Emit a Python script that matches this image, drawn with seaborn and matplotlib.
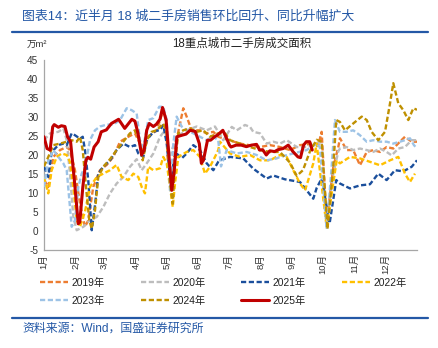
import numpy as np
import pandas as pd
import matplotlib
matplotlib.use("Agg")
import matplotlib.pyplot as plt
import seaborn as sns
from matplotlib.lines import Line2D

# ---------------- data (day of year, value in 万㎡) ----------------
months = ["1月", "2月", "3月", "4月", "5月", "6月", "7月", "8月", "9月", "10月", "11月", "12月"]
month_start_days = [0, 31, 59, 90, 120, 151, 181, 212, 243, 273, 304, 334]
years = ["2019年", "2020年", "2021年", "2022年", "2023年", "2024年", "2025年"]

d2019 = [0, 4.2, 9.1, 15.7, 22.2, 25.4, 30.3, 35.2, 40.1, 43.3, 48.2, 54.8, 61.4, 67.8, 74.4, 82.5, 89, 93.9, 97.2, 102,
         110.3, 116.7, 119.1, 121.6, 125, 128.2, 133, 136.3, 139.6, 144.5, 152.6, 159.2, 165.7, 170.5, 180, 191.8, 211.4,
         221.1, 230.9, 240.7, 250.5, 263.5, 268.4, 271.7, 276.6, 283.1, 288, 289.6, 296.2, 302.6, 309.2, 315.8, 322.2,
         328.8, 335.3, 341.8, 348.3, 353.2, 359.8, 365]
v2019 = [13.4, 11.6, 19.5, 21.3, 22.1, 21.3, 16, 7.2, 1.1, 2.8, 11.6, 16, 17.4, 19.5, 23.5, 24.8, 25.7, 23, 20.4, 24.8,
         26.5, 31.8, 30.1, 16, 11.6, 22.1, 28.1, 32.3, 30.1, 26.5, 26.5, 25.7, 26.1, 24.8, 24, 23.0, 22.1,
         22.6, 22.1, 21.3, 22.6, 23.0, 22.6, 26.1, 1.9, 16.9, 22.1, 24.4, 21.3, 21.3, 17.3, 20.8, 21.3,
         20.8, 22.1, 21.7, 23.5, 24.8, 23.5, 23.5]

d2020 = [0, 5.9, 14, 18.9, 22.2, 25.4, 28.7, 32, 38.5, 45, 51.6, 58, 64.6, 71.1, 77.6, 84.1, 90.7, 95.6, 100.5, 107,
         113.5, 118.4, 123.3, 129.8, 139.6, 149.4, 159.2, 167.3, 175.4, 183.7, 188.6, 196.7, 201.6, 204.8, 211.4, 217.9,
         224.4, 230.9, 237.5, 247.3, 257, 266.8, 271.7, 276.6, 283.1, 288, 289.6, 296.2, 302.6, 309.2, 315.8, 322.2,
         328.8, 335.3, 340.2, 346.7, 353.2, 359.8, 365]
v2020 = [23.9, 25.7, 26.1, 27, 23.9, 15.1, 3.7, 0.2, 1.1, 2.8, 3.7, 6.3, 9.9, 12.5, 14.2, 16.9, 18.9, 16, 17.8, 20.4,
         24.8, 26.5, 20, 24.8, 26.5, 27.5, 26.5, 27.5, 23.9, 27.4, 26.5, 27.9, 27.4, 26.1, 25.7, 23,
         23.5, 23, 23.9, 22.1, 22.1, 23, 23.5, 2.5, 15, 21, 21.7, 22.1, 21.3, 21.7, 21.3, 20.8,
         21.7, 20.8, 19.9, 21.7, 22.1, 23.9, 23.9]

d2021 = [0, 4.2, 7.5, 14, 18.9, 22.2, 27.1, 30.3, 35.2, 37.9, 40.1, 43.3, 46.7, 50.1, 53.1, 58, 64.6, 71.1, 77.6, 84.1,
         89, 92.3, 97.2, 100.5, 107, 113.5, 116.7, 120.1, 122.6, 125, 126.6, 129.8, 134.7, 139.6, 146.1, 152.6, 159.2,
         165.7, 170.5, 172.2, 182, 195, 204.8, 217.9, 224.4, 235.8, 250.5, 257, 263.5, 266.8, 271.7, 279.5, 286, 289.6,
         299.4, 309.2, 319, 327.1, 335.3, 343.4, 351.6, 359.8, 365]
v2021 = [16.9, 14.2, 20.8, 22.6, 23.0, 22.6, 25.7, 25.2, 24.3, 24.8, 21.3, 13.4, 0.2, 7.2, 15.1, 16.9, 18.6, 21.3, 23, 22.1,
         22.6, 20.4, 19.5, 23.9, 26.1, 26.6, 27.9, 23.0, 16, 11.6, 17.8, 20.4, 19.1, 20.4, 22.6, 21.3, 17.8,
         16, 18.2, 18.6, 19.5, 19.1, 16.4, 13.8, 14.6, 13.6, 12.9, 10.7, 8.5, 11.3, 13.8, 2, 13.4, 12.5,
         11.2, 12.0, 12.3, 15.1, 13.4, 16, 15.7, 16.9, 18.6]

d2022 = [0, 4.2, 7.5, 12.4, 17.3, 22.2, 25.4, 28.7, 32, 35.2, 40.1, 45, 51.6, 58, 64.6, 71.1, 76, 82.5, 87.4, 92.3,
         95.6, 98.8, 102, 107, 113.5, 116.7, 120.1, 123.3, 126, 128.2, 131.4, 139.6, 146.1, 152.6, 157.5, 162.4, 167.3,
         170.5, 172.2, 182, 191.8, 201.6, 211.4, 221.1, 230.9, 237.5, 243.9, 250.5, 255.4, 258.6, 263.5, 266.8, 276.6,
         286.4, 289.6, 299.4, 309.2, 319, 328.8, 338.6, 346.7, 353.2, 358.1, 363]
v2022 = [14.2, 9.9, 16, 19.5, 20.4, 20.0, 18.2, 11.6, 2.8, 1.1, 5.1, 11.6, 14.2, 15.1, 16, 17.4, 14.2, 13.4, 15.1, 14.2,
         11.6, 9.9, 16.9, 16, 16.5, 19.5, 17.8, 11.6, 6.3, 12.5, 19.5, 20.8, 21.3, 19.5, 15.1, 16.9, 19.5,
         21.3, 23.5, 20.4, 19.5, 20.0, 18.6, 18.6, 20, 19.5, 16, 12.5, 10.7, 13.4, 17.8, 23.0, 1.0,
         18.6, 17.8, 19.5, 19.1, 18.2, 17.3, 18.6, 19.5, 15.1, 12.9, 15.1]

d2023 = [0, 4.2, 9.1, 14, 18.9, 22.2, 25.4, 27.1, 30.3, 33.6, 36.9, 40.1, 45, 49.9, 54.8, 61.4, 67.8, 74.4, 80.9, 85.8,
         90.7, 93.9, 97.2, 102, 107, 112.8, 116.7, 120.1, 123.3, 126.6, 129.8, 134.7, 139.6, 146.1, 152.6, 159.2, 165.7,
         170.5, 173.2, 178.8, 188.6, 198.3, 208.1, 217.9, 227.7, 230.9, 243.9, 257, 266.8, 270, 276.6, 281.5, 284.7,
         289.6, 296.2, 302.6, 309.2, 315.8, 322.2, 328.8, 335.3, 341.8, 348.3, 353.2, 358.1, 362, 365]
v2023 = [11.6, 18.6, 21.3, 19.5, 17.8, 16, 6.3, 1.1, 2.8, 11.6, 15.1, 16.9, 23.9, 26.5, 27.5, 28, 28, 29.2, 32.3, 31.8,
         30.9, 23.9, 22.1, 29.2, 29.7, 32.7, 32.7, 29.2, 10.7, 23, 30.1, 27.5, 26.5, 25.7, 24.8, 23.9, 24.8,
         23.9, 17, 21.3, 20.4, 20.8, 20.0, 18.6, 19.1, 19.5, 20.4, 21.3, 23, 22, 0.5, 16.9, 29.2,
         26.1, 26.1, 26.5, 25.2, 23.5, 23.9, 23.5, 23.5, 23.0, 23.5, 23.9, 24.4, 22.6, 21.7]

d2024 = [0, 4.2, 9.1, 15.7, 22.2, 27.1, 32, 35.2, 37.9, 41.1, 44.3, 46.7, 49.9, 53.1, 58, 64.6, 71.1, 77.6, 84.1, 89,
         93.2, 96.6, 100.5, 105.4, 110.3, 116.7, 120.1, 123.3, 126, 128.2, 131.4, 136.3, 142.9, 149.4, 155.9, 162.4,
         170.5, 177.1, 182, 191.8, 201.6, 211.4, 221.1, 230.9, 240.7, 247.3, 253.4, 260.3, 266.8, 271.7, 277.4, 283.1,
         286, 289.6, 294.5, 302.6, 310.9, 315.8, 320.6, 327.1, 333.7, 338.6, 341.8, 346.7, 351.6, 356.5, 361.4, 365]
v2024 = [17, 19.5, 22.6, 23, 23.5, 23.9, 23.5, 24.8, 21.3, 11.6, 2.8, 0.6, 5.4, 14.2, 16.9, 18.9, 21.3, 23.5, 25.7, 26.5,
         23.9, 18.6, 23.9, 26.1, 26.5, 28.3, 25.7, 12.5, 7.2, 17.8, 25.7, 26.5, 27, 26.1, 26.5, 24.8,
         25.7, 25.7, 23.9, 23, 22.1, 21.3, 20.8, 20.8, 18, 14.5, 16, 21, 24, 23.5, 0.5, 17,
         29.2, 28.7, 26.5, 28.3, 30.1, 29.2, 26.1, 23.9, 26.1, 33.6, 38.9, 33.6, 31.8, 29.2, 32.3, 31.9]

d2025 = [0, 3, 6, 8.5, 10, 14, 17, 20.5, 23, 26, 30, 33.5, 35, 38, 41, 43, 45.7, 49, 53, 56, 61, 66, 73, 79, 86, 89, 92,
         95.5, 98, 100.5, 103, 107, 110, 113.5, 116, 119.5, 122.6, 125, 127.5, 130, 135, 139, 143, 148, 152, 154, 156,
         160, 163, 167, 170, 175, 178, 181.5, 183, 188, 193, 198, 203, 208, 211, 214, 217.5, 221, 225.7, 229, 234, 239,
         243.6, 248.5, 251, 254, 256.7, 260, 262.5]
v2025 = [24.8, 21.7, 21.3, 27.4, 28, 27.3, 27.7, 27.5, 24.8, 23.5, 12.5, 1.9, 2.3, 11.6, 18.6, 19.4, 18.9, 22.1, 23.5, 26.1,
         26.6, 28.3, 29.4, 27, 29.4, 28.9, 25.7, 20, 21.3, 26.5, 28.3, 27.5, 28.1, 29.4, 32.5, 29.2, 18.6, 10.7, 16, 24.8,
         25.2, 25.5, 26.5, 26.2, 23, 17.8, 18.6, 23.9, 23.9, 24.8, 25.3, 26.5, 24.8, 22.6, 22.1, 22.6, 22.6, 22.2, 22.6,
         22.8, 21.3, 21.4, 20, 21.1, 20.9, 21.4, 21.7, 22.6, 20.9, 19.5, 19.3, 22.6, 23.5, 23.5, 21.3]

series = {
    "2019年": (d2019, v2019),
    "2020年": (d2020, v2020),
    "2021年": (d2021, v2021),
    "2022年": (d2022, v2022),
    "2023年": (d2023, v2023),
    "2024年": (d2024, v2024),
    "2025年": (d2025, v2025),
}

colors = {
    "2019年": "#ED7D31",
    "2020年": "#BDBDBD",
    "2021年": "#1B4F9C",
    "2022年": "#FFC000",
    "2023年": "#9DC3E6",
    "2024年": "#BF9000",
    "2025年": "#C00000",
}

# ---------------- style ----------------
sns.set_style("white")
plt.rcParams["font.family"] = ["Liberation Sans", "Noto Sans CJK SC", "DejaVu Sans"]
plt.rcParams["axes.unicode_minus"] = False

fig = plt.figure(figsize=(4.38, 3.48), dpi=100)
ax = fig.add_axes([44 / 438, 1 - 250 / 348, (417 - 44) / 438, (250 - 60) / 348])

for name in years:
    dd, vv = series[name]
    df = pd.DataFrame({"day": dd, "value": vv})
    if name == "2025年":
        sns.lineplot(data=df, x="day", y="value", ax=ax, color=colors[name], lw=2.2,
                     sort=False, estimator=None, zorder=10)
    else:
        sns.lineplot(data=df, x="day", y="value", ax=ax, color=colors[name], lw=1.7,
                     sort=False, estimator=None, zorder=5)
        ax.lines[-1].set_dashes((2.2, 1.1))

ax.set_xlim(0, 365)
ax.set_ylim(-5, 45)
ax.set_yticks(np.arange(-5, 46, 5))
ax.set_xticks(month_start_days)
ax.set_xticklabels(months, rotation=90, fontsize=6.8, color="#333333")
ax.tick_params(axis="y", labelsize=7.2, colors="#333333", length=2, width=0.6, pad=2, direction="out")
ax.tick_params(axis="x", length=0, pad=3)
ax.set_xlabel("")
ax.set_ylabel("")
for s in ["top", "right"]:
    ax.spines[s].set_visible(False)
for s in ["left", "bottom"]:
    ax.spines[s].set_color("#A6A6A6")
    ax.spines[s].set_linewidth(0.9)

# ---------------- texts ----------------
blue = "#2458A6"
fig.text(22 / 438, 1 - 17 / 348, "图表14：近半月 18 城二手房销售环比回升、同比升幅扩大",
         fontsize=9.3, color=blue, va="center", ha="left")
fig.add_artist(Line2D([12 / 438, 428 / 438], [1 - 32 / 348, 1 - 32 / 348], color=blue, lw=1.6))
fig.add_artist(Line2D([12 / 438, 428 / 438], [1 - 318 / 348, 1 - 318 / 348], color=blue, lw=1.6))
fig.text(22 / 438, 1 - 329 / 348, "资料来源：Wind，国盛证券研究所", fontsize=8.6, color=blue,
         va="center", ha="left")
fig.text(242 / 438, 1 - 44 / 348, "18重点城市二手房成交面积", fontsize=8.3, color="#222222",
         va="center", ha="center")
fig.text(27 / 438, 1 - 44 / 348, "万m²", fontsize=6.8, color="#333333", va="center", ha="left")

# ---------------- legend (row-wise order: reorder for column-major fill) ----------------
handle_map = {}
for name in years:
    if name == "2025年":
        handle_map[name] = Line2D([], [], color=colors[name], lw=2.2)
    else:
        handle_map[name] = Line2D([], [], color=colors[name], lw=1.7, dashes=(2.2, 1.1))
order = ["2019年", "2023年", "2020年", "2024年", "2021年", "2025年", "2022年"]
fig.legend([handle_map[n] for n in order], order, loc="upper left",
           bbox_to_anchor=(40 / 438, 1 - 278 / 348), ncol=4,
           frameon=False, fontsize=7.4, handlelength=2.75, handletextpad=0.35, columnspacing=3.45,
           labelspacing=0.75, borderpad=0, borderaxespad=0, labelcolor="#222222")

fig.savefig("out.png", dpi=100)
